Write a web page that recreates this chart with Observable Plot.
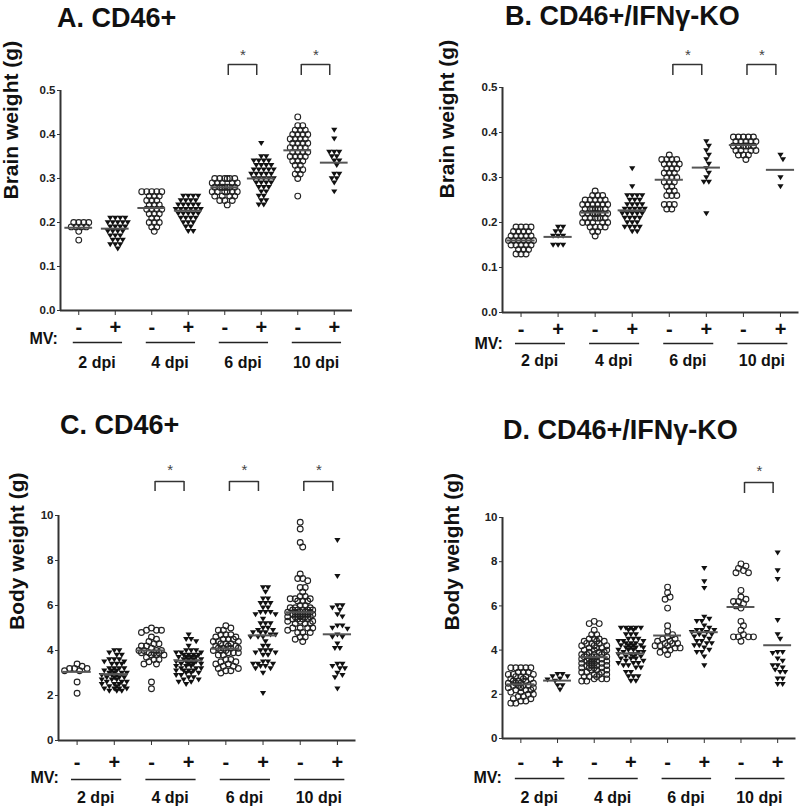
<!DOCTYPE html>
<html><head><meta charset="utf-8">
<script src="https://cdn.jsdelivr.net/npm/d3@7"></script>
<script src="https://cdn.jsdelivr.net/npm/@observablehq/plot@0.6"></script>
<style>
html,body{margin:0;padding:0;background:#fff;}
#root{position:relative;width:800px;height:806px;overflow:hidden;}
.panel{position:absolute;}
.title{position:absolute;font-family:'Liberation Sans',Arial,Helvetica,sans-serif;font-weight:bold;font-size:27px;line-height:30px;color:#111;white-space:nowrap;}
</style></head><body><div id="root"></div>
<script>
// ---------- labels ----------
const groupSigns = ["-", "+", "-", "+", "-", "+", "-", "+"];
const dpiLabels = ["2 dpi", "4 dpi", "6 dpi", "10 dpi"];
const mvLabel = "MV:";
const titles = ["A. CD46+", "B. CD46+/IFNγ-KO", "C. CD46+", "D. CD46+/IFNγ-KO"];
const yLabels = ["Brain weight (g)", "Brain weight (g)", "Body weight (g)", "Body weight (g)"];
const brainTicks = [0, 0.1, 0.2, 0.3, 0.4, 0.5];
const bodyTicks = [0, 2, 4, 6, 8, 10];

// ---------- A. CD46+ brain weight (8 groups: 2dpi -, +, 4dpi -, +, 6dpi -, +, 10dpi -, +) ----------
const brainCD46 = [
  [0.20,0.20,0.20,0.20,0.19,0.19,0.19,0.19,0.18,0.16],
  [0.21,0.21,0.21,0.21,0.20,0.20,0.20,0.20,0.20,0.19,0.19,0.19,0.19,0.18,0.18,0.18,0.18,0.17,0.17,0.17,0.16,0.16,0.16,0.15,0.15,0.15,0.14],
  [0.27,0.27,0.27,0.27,0.27,0.26,0.26,0.26,0.25,0.25,0.25,0.24,0.24,0.24,0.23,0.23,0.23,0.23,0.22,0.22,0.22,0.21,0.21,0.20,0.20,0.20,0.19,0.19,0.18],
  [0.26,0.26,0.26,0.26,0.25,0.25,0.25,0.25,0.24,0.24,0.24,0.24,0.24,0.23,0.23,0.23,0.23,0.23,0.23,0.22,0.22,0.22,0.22,0.22,0.21,0.21,0.21,0.21,0.20,0.20,0.20,0.19,0.19,0.18,0.18],
  [0.30,0.30,0.30,0.30,0.30,0.30,0.29,0.29,0.29,0.29,0.29,0.28,0.28,0.28,0.28,0.28,0.28,0.28,0.27,0.27,0.27,0.27,0.27,0.27,0.26,0.26,0.26,0.26,0.25,0.25,0.25,0.24],
  [0.38,0.35,0.35,0.34,0.34,0.34,0.34,0.33,0.33,0.33,0.33,0.32,0.32,0.32,0.32,0.32,0.31,0.31,0.31,0.31,0.31,0.30,0.30,0.30,0.30,0.30,0.29,0.29,0.29,0.29,0.28,0.28,0.28,0.27,0.27,0.26,0.26,0.25,0.25,0.24,0.24],
  [0.44,0.42,0.42,0.41,0.41,0.41,0.40,0.40,0.40,0.40,0.39,0.39,0.39,0.39,0.38,0.38,0.38,0.38,0.37,0.37,0.37,0.37,0.36,0.36,0.36,0.36,0.35,0.35,0.35,0.35,0.34,0.34,0.34,0.33,0.33,0.32,0.32,0.31,0.31,0.30,0.26],
  [0.41,0.39,0.36,0.36,0.36,0.35,0.35,0.34,0.34,0.33,0.31,0.31,0.30,0.30,0.29,0.27]
];
const brainCD46Means = [0.188, 0.186, 0.233, 0.227, 0.280, 0.300, 0.364, 0.336];
const brainCD46Sig = [2, 3];

// ---------- B. CD46+/IFNγ-KO brain weight ----------
const brainKO = [
  [0.19,0.19,0.19,0.19,0.18,0.18,0.18,0.18,0.17,0.17,0.17,0.17,0.17,0.16,0.16,0.16,0.16,0.16,0.16,0.15,0.15,0.15,0.15,0.15,0.14,0.14,0.14,0.13,0.13,0.13],
  [0.19,0.19,0.18,0.18,0.17,0.17,0.17,0.15,0.15,0.15],
  [0.27,0.26,0.26,0.26,0.25,0.25,0.25,0.25,0.25,0.24,0.24,0.24,0.24,0.24,0.24,0.23,0.23,0.23,0.23,0.23,0.23,0.23,0.22,0.22,0.22,0.22,0.22,0.22,0.22,0.21,0.21,0.21,0.21,0.21,0.21,0.20,0.20,0.20,0.20,0.20,0.19,0.19,0.19,0.19,0.18,0.18,0.17],
  [0.32,0.28,0.26,0.26,0.26,0.26,0.25,0.25,0.25,0.24,0.24,0.24,0.24,0.23,0.23,0.23,0.23,0.23,0.22,0.22,0.22,0.22,0.22,0.21,0.21,0.21,0.21,0.20,0.20,0.20,0.19,0.19,0.19,0.19,0.18,0.18],
  [0.35,0.34,0.34,0.34,0.34,0.33,0.33,0.33,0.33,0.32,0.32,0.32,0.31,0.31,0.31,0.30,0.30,0.30,0.29,0.29,0.29,0.28,0.28,0.27,0.27,0.26,0.26,0.26,0.24,0.24,0.24,0.23,0.23],
  [0.38,0.37,0.36,0.35,0.34,0.33,0.32,0.31,0.30,0.29,0.29,0.22],
  [0.39,0.39,0.39,0.39,0.39,0.38,0.38,0.38,0.38,0.38,0.37,0.37,0.37,0.37,0.37,0.37,0.36,0.36,0.36,0.36,0.35,0.35,0.35,0.34],
  [0.35,0.34,0.30,0.28]
];
const brainKOMeans = [0.160, 0.168, 0.222, 0.227, 0.295, 0.322, 0.372, 0.317];
const brainKOSig = [2, 3];

// ---------- C. CD46+ body weight ----------
const bodyCD46 = [
  [3.4,3.3,3.2,3.2,3.2,3.1,3.1,2.6,2.1],
  [4.0,4.0,3.9,3.8,3.8,3.6,3.6,3.6,3.5,3.5,3.4,3.4,3.4,3.2,3.2,3.2,3.2,3.1,3.1,3.1,3.0,3.0,3.0,3.0,2.9,2.9,2.9,2.8,2.8,2.8,2.8,2.7,2.7,2.7,2.6,2.6,2.6,2.5,2.5,2.5,2.4,2.4,2.4,2.3,2.3,2.3,2.3,2.2,2.2,2.2],
  [5.0,4.9,4.9,4.9,4.8,4.6,4.5,4.4,4.3,4.3,4.2,4.2,4.1,4.0,4.0,4.0,4.0,3.9,3.9,3.9,3.9,3.8,3.8,3.8,3.7,3.6,3.6,3.5,3.4,3.4,2.6,2.3],
  [4.7,4.5,4.5,4.4,4.2,4.0,4.0,4.0,3.9,3.9,3.9,3.8,3.8,3.8,3.8,3.7,3.7,3.7,3.7,3.6,3.6,3.6,3.6,3.5,3.5,3.5,3.5,3.4,3.4,3.4,3.4,3.3,3.3,3.3,3.2,3.2,3.2,3.1,3.1,3.1,3.1,3.0,3.0,3.0,2.9,2.9,2.8,2.8,2.7,2.7,2.6,2.6,2.5],
  [5.1,5.0,4.9,4.9,4.7,4.7,4.7,4.6,4.6,4.5,4.5,4.5,4.4,4.4,4.4,4.3,4.3,4.3,4.2,4.2,4.2,4.1,4.1,4.1,4.1,4.0,4.0,4.0,3.9,3.9,3.9,3.8,3.8,3.6,3.6,3.5,3.5,3.4,3.4,3.3,3.3,3.2,3.2,3.1,3.1,3.0],
  [6.8,6.8,6.6,6.3,6.3,6.1,6.1,6.1,5.9,5.9,5.7,5.7,5.7,5.6,5.6,5.4,5.2,5.2,5.2,5.0,5.0,4.9,4.9,4.8,4.8,4.8,4.7,4.7,4.6,4.6,4.6,4.4,4.2,4.2,4.0,4.0,4.0,3.9,3.9,3.8,3.8,3.5,3.5,3.4,3.4,3.4,3.3,3.3,3.2,3.2,3.0,2.1],
  [9.7,9.4,8.8,8.6,7.4,7.2,7.2,7.1,6.8,6.8,6.6,6.4,6.4,6.3,6.3,6.3,6.2,6.2,6.2,6.0,6.0,5.9,5.9,5.9,5.8,5.8,5.8,5.8,5.8,5.7,5.7,5.7,5.7,5.7,5.6,5.6,5.6,5.6,5.6,5.5,5.5,5.5,5.5,5.5,5.4,5.4,5.4,5.4,5.3,5.3,5.3,5.2,5.2,5.2,5.0,5.0,5.0,5.0,4.9,4.8,4.8,4.8,4.6,4.6,4.5,4.4],
  [8.9,7.3,6.0,6.0,5.9,5.8,5.6,5.5,5.1,5.1,5.0,4.95,4.7,4.6,4.6,4.3,4.1,4.1,3.4,3.4,3.3,3.2,3.2,3.0,2.9,2.8,2.3]
];
const bodyCD46Means = [3.05, 2.95, 4.00, 3.55, 4.08, 4.67, 5.70, 4.72];
const bodyCD46Sig = [1, 2, 3];

// ---------- D. CD46+/IFNγ-KO body weight ----------
const bodyKO = [
  [3.2,3.2,3.2,3.2,3.2,3.0,3.0,3.0,2.9,2.9,2.9,2.8,2.8,2.8,2.7,2.7,2.7,2.6,2.6,2.6,2.5,2.5,2.5,2.5,2.4,2.4,2.4,2.4,2.3,2.3,2.3,2.2,2.2,2.2,2.1,2.1,2.0,2.0,1.9,1.9,1.8,1.8,1.7,1.7,1.6,1.6],
  [2.9,2.9,2.8,2.8,2.7,2.65,2.6,2.4,2.4,2.2],
  [5.3,5.2,5.2,4.9,4.7,4.7,4.5,4.5,4.5,4.4,4.4,4.4,4.3,4.3,4.3,4.2,4.2,4.2,4.1,4.1,4.1,4.0,4.0,4.0,3.9,3.9,3.9,3.8,3.8,3.8,3.8,3.7,3.7,3.7,3.7,3.6,3.6,3.6,3.6,3.5,3.5,3.5,3.5,3.4,3.4,3.4,3.4,3.3,3.3,3.3,3.3,3.2,3.2,3.2,3.2,3.1,3.1,3.1,3.0,3.0,3.0,2.9,2.9,2.9,2.8,2.8,2.8,2.7,2.7,2.7,2.6,2.6],
  [5.0,5.0,5.0,5.0,5.0,4.9,4.9,4.7,4.7,4.7,4.5,4.5,4.5,4.4,4.4,4.4,4.3,4.3,4.3,4.2,4.2,4.2,4.2,4.1,4.1,4.1,4.1,4.0,4.0,4.0,3.9,3.9,3.9,3.8,3.8,3.8,3.7,3.7,3.7,3.6,3.6,3.6,3.5,3.5,3.4,3.4,3.4,3.3,3.3,3.2,3.2,3.0,3.0,2.8,2.8,2.8,2.6,2.6],
  [6.85,6.6,6.4,6.3,5.9,5.1,4.85,4.7,4.6,4.5,4.5,4.4,4.4,4.3,4.3,4.3,4.2,4.2,4.2,4.1,4.1,4.0,4.0,3.9,3.8],
  [7.7,7.1,6.8,5.5,5.4,5.3,5.3,5.1,5.0,4.9,4.9,4.9,4.8,4.8,4.7,4.7,4.6,4.6,4.5,4.4,4.4,4.3,4.3,4.2,4.2,4.1,4.0,3.9,3.9,3.7,3.3],
  [7.9,7.8,7.7,7.6,7.5,7.5,6.7,6.4,6.3,6.2,6.2,6.1,6.0,5.9,5.3,5.1,4.9,4.7,4.6,4.6,4.6,4.6,4.4],
  [8.4,7.6,7.2,5.35,4.7,4.5,3.9,3.9,3.85,3.6,3.5,3.3,3.3,3.2,3.1,3.0,3.0,2.7,2.7,2.45,2.45]
];
const bodyKOMeans = [2.45, 2.62, 3.68, 3.85, 4.66, 4.81, 5.95, 4.22];
const bodyKOSig = [3];

// ---------- rendering ----------
const FONT = "'Liberation Sans', Arial, Helvetica, sans-serif";
const triDown = {
  draw(ctx, size) {
    const r = Math.sqrt(size / Math.PI);
    ctx.moveTo(-r, -r * 0.75);
    ctx.lineTo(r, -r * 0.75);
    ctx.lineTo(0, r * 0.85);
    ctx.closePath();
  }
};

// compact swarm: offsets limited to +-maxOff px, overlaps allowed once the row is full
function beeswarm(values, gi, pxY, pxX) {
  const dmin = 5, step = 2.5, maxOff = 12.5;
  const placed = [], out = [];
  const order = d3.range(values.length).sort((a, b) => d3.descending(values[a], values[b]));
  for (const i of order) {
    const py = values[i] * pxY;
    let best = 0, bestD = -1;
    for (let k = 0; k < 100; k++) {
      const off = (k % 2 ? 1 : -1) * Math.ceil(k / 2) * step;
      if (Math.abs(off) > maxOff) break;
      const md = placed.length ? d3.min(placed, p => Math.hypot(p.x - off, p.y - py)) : Infinity;
      if (md >= dmin) { best = off; break; }
      if (md > bestD + 0.8) { bestD = md; best = off; }
    }
    placed.push({x: best, y: py});
    out.push({g: gi, x: gi + best / pxX, v: values[i]});
  }
  return out;
}

const panels = [
  {groups: brainCD46, means: brainCD46Means, sig: brainCD46Sig, title: titles[0], ylabel: yLabels[0], ticks: brainTicks, fmt: d3.format(".1f"),
   left: 0, top: 0, w: 400, h: 400, mL: 60, mR: 48, mT: 90, mB: 90,
   titleX: 57, titleY: 3, ylabDx: -49, ylabDy: -1, signDy: 17, mvDx: -31, mvDy: 28, lineDy: 32, dpiDy: 52, brTop: -26, brLeg: -15, starDy: -35},
  {groups: brainKO, means: brainKOMeans, sig: brainKOSig, title: titles[1], ylabel: yLabels[1], ticks: brainTicks, fmt: d3.format(".1f"),
   left: 400, top: 0, w: 400, h: 400, mL: 102, mR: 1.5, mT: 87, mB: 88,
   titleX: 505, titleY: 1, ylabDx: -55, ylabDy: -1.5, signDy: 17, mvDx: -28, mvDy: 31, lineDy: 31, dpiDy: 48, brTop: -23, brLeg: -12, starDy: -32},
  {groups: bodyCD46, means: bodyCD46Means, sig: bodyCD46Sig, title: titles[2], ylabel: yLabels[2], ticks: bodyTicks, fmt: d3.format("d"),
   left: 0, top: 400, w: 400, h: 406, mL: 58, mR: 44.5, mT: 115, mB: 66,
   titleX: 60, titleY: 410, ylabDx: -41, ylabDy: 2, signDy: 22, mvDx: -28, mvDy: 37, lineDy: 39, dpiDy: 57, brTop: -34, brLeg: -24, starDy: -45},
  {groups: bodyKO, means: bodyKOMeans, sig: bodyKOSig, title: titles[3], ylabel: yLabels[3], ticks: bodyTicks, fmt: d3.format("d"),
   left: 400, top: 400, w: 400, h: 406, mL: 102, mR: 4.5, mT: 117, mB: 68,
   titleX: 503, titleY: 415, ylabDx: -50, ylabDy: 2.5, signDy: 24, mvDx: -29, mvDy: 39, lineDy: 40, dpiDy: 59, brTop: -35, brLeg: -24, starDy: -46}
];

const root = document.getElementById("root");
const xDomain = [-0.5, groupSigns.length - 0.5];

for (const p of panels) {
  const yMin = p.ticks[0], yMax = p.ticks[p.ticks.length - 1];
  const pxY = (p.h - p.mT - p.mB) / (yMax - yMin);
  const pxX = (p.w - p.mL - p.mR) / (xDomain[1] - xDomain[0]);
  const pts = p.groups.flatMap((vals, gi) => beeswarm(vals, gi, pxY, pxX));
  const half = 0.39;

  const chart = Plot.plot({
    width: p.w, height: p.h,
    marginLeft: p.mL, marginRight: p.mR, marginTop: p.mT, marginBottom: p.mB,
    style: {fontFamily: FONT, color: "#222", background: "transparent", overflow: "visible"},
    x: {domain: xDomain, axis: null},
    y: {domain: [yMin, yMax], axis: null},
    marks: [
      Plot.axisY(p.ticks, {tickSize: 3, tickPadding: 2, tickFormat: p.fmt, fontSize: 11.5, fontWeight: "bold", stroke: "#333", label: null}),
      Plot.axisX(d3.range(groupSigns.length), {tickSize: 5, tickFormat: () => "", stroke: "#333", label: null}),
      Plot.ruleY([yMin], {stroke: "#333", strokeWidth: 2}),
      Plot.ruleX([xDomain[0]], {stroke: "#333", strokeWidth: 2}),
      Plot.dot(pts.filter(d => d.g % 2 === 0), {x: "x", y: "v", r: 2.9, stroke: "#222", strokeWidth: 1.1, fill: "none"}),
      Plot.dot(pts.filter(d => d.g % 2 === 1), {x: "x", y: "v", r: 3.1, symbol: triDown, fill: "#111", stroke: "none"}),
      Plot.ruleY(p.means, {y: d => d, x1: (d, i) => i - 0.38, x2: (d, i) => i + 0.38, stroke: "#555", strokeWidth: 2}),
      // MV signs
      Plot.text(groupSigns, {x: (d, i) => i, text: d => d, frameAnchor: "bottom", dy: p.signDy, fontSize: 20, fontWeight: "bold", lineAnchor: "middle", fill: "#111"}),
      Plot.text([mvLabel], {text: d => d, frameAnchor: "bottom-left", textAnchor: "start", dx: p.mvDx, dy: p.mvDy, fontSize: 16, fontWeight: "bold", lineAnchor: "middle", fill: "#111"}),
      Plot.ruleY(dpiLabels, {y: () => yMin, x1: (d, i) => 2 * i - 0.15, x2: (d, i) => 2 * i + 1.2, dy: p.lineDy, stroke: "#222", strokeWidth: 1.3}),
      Plot.text(dpiLabels, {x: (d, i) => 2 * i + 0.5, text: d => d, frameAnchor: "bottom", dy: p.dpiDy, fontSize: 16, fontWeight: "bold", lineAnchor: "middle", fill: "#111"}),
      // significance brackets
      Plot.ruleY(p.sig, {y: () => yMax, x1: s => 2 * s + 0.5 - half, x2: s => 2 * s + 0.5 + half, dy: p.brTop, stroke: "#333", strokeWidth: 1.5}),
      (index, scales, values, dims) => {
        const g = d3.create("svg:g").attr("stroke", "#333").attr("stroke-width", 1.5);
        for (const s of p.sig) for (const e of [-half, half]) {
          const x = scales.x(2 * s + 0.5 + e);
          g.append("line").attr("x1", x).attr("x2", x)
            .attr("y1", dims.marginTop + p.brTop).attr("y2", dims.marginTop + p.brLeg);
        }
        return g.node();
      },
      Plot.text(p.sig, {x: s => 2 * s + 0.5, text: () => "*", frameAnchor: "top", dy: p.starDy, fontSize: 15, fill: "#444", lineAnchor: "middle"}),
      // y label
      Plot.text([p.ylabel], {text: d => d, frameAnchor: "left", rotate: -90, dx: p.ylabDx, dy: p.ylabDy, fontSize: 21, fontWeight: "bold", lineAnchor: "middle", fill: "#111"})
    ]
  });
  chart.classList.add("panel");
  chart.style.left = p.left + "px";
  chart.style.top = p.top + "px";
  chart.style.position = "absolute";
  root.appendChild(chart);

  const t = document.createElement("div");
  t.className = "title";
  t.textContent = p.title;
  t.style.left = p.titleX + "px";
  t.style.top = p.titleY + "px";
  root.appendChild(t);
}
</script>
</body></html>
